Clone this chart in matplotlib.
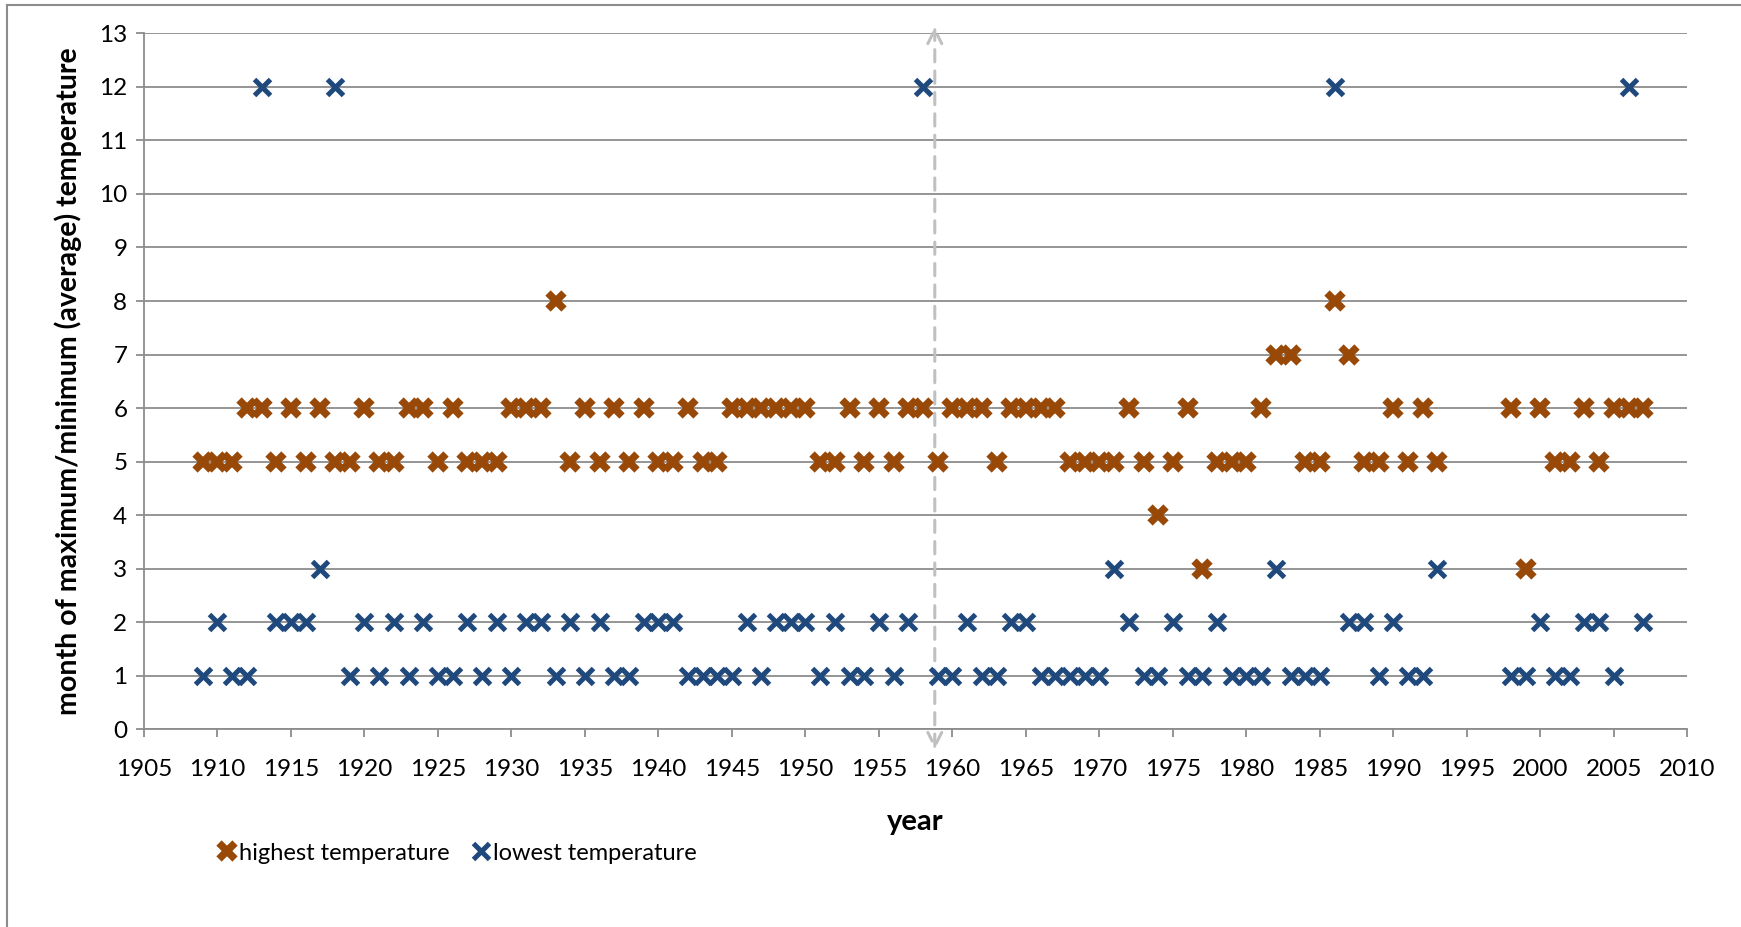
import matplotlib.pyplot as plt
from matplotlib.lines import Line2D
import numpy as np

plt.rcParams['font.family'] = ['Lato', 'DejaVu Sans']

# month of the year's extreme (average) temperature
high_years = [1909, 1910, 1911, 1912, 1913, 1914, 1915, 1916, 1917, 1918, 1919, 1920,
              1921, 1922, 1923, 1924, 1925, 1926, 1927, 1928, 1929, 1930, 1931, 1932,
              1933, 1934, 1935, 1936, 1937, 1938, 1939, 1940, 1941, 1942, 1943, 1944,
              1945, 1946, 1947, 1948, 1949, 1950, 1951, 1952, 1953, 1954, 1955, 1956,
              1957, 1958, 1959, 1960, 1961, 1962, 1963, 1964, 1965, 1966, 1967, 1968,
              1969, 1970, 1971, 1972, 1973, 1974, 1975, 1976, 1977, 1978, 1979, 1980,
              1981, 1982, 1983, 1984, 1985, 1986, 1987, 1988, 1989, 1990, 1991, 1992,
              1993, 1998, 1999, 2000, 2001, 2002, 2003, 2004, 2005, 2006, 2007]
high_month = [5, 5, 5, 6, 6, 5, 6, 5, 6, 5, 5, 6,
              5, 5, 6, 6, 5, 6, 5, 5, 5, 6, 6, 6,
              8, 5, 6, 5, 6, 5, 6, 5, 5, 6, 5, 5,
              6, 6, 6, 6, 6, 6, 5, 5, 6, 5, 6, 5,
              6, 6, 5, 6, 6, 6, 5, 6, 6, 6, 6, 5,
              5, 5, 5, 6, 5, 4, 5, 6, 3, 5, 5, 5,
              6, 7, 7, 5, 5, 8, 7, 5, 5, 6, 5, 6,
              5, 6, 3, 6, 5, 5, 6, 5, 6, 6, 6]

low_years = high_years
low_month = [1, 2, 1, 1, 12, 2, 2, 2, 3, 12, 1, 2,
             1, 2, 1, 2, 1, 1, 2, 1, 2, 1, 2, 2,
             1, 2, 1, 2, 1, 1, 2, 2, 2, 1, 1, 1,
             1, 2, 1, 2, 2, 2, 1, 2, 1, 1, 2, 1,
             2, 12, 1, 1, 2, 1, 1, 2, 2, 1, 1, 1,
             1, 1, 3, 2, 1, 1, 2, 1, 1, 2, 1, 1,
             1, 3, 1, 1, 1, 12, 2, 2, 1, 2, 1, 1,
             3, 1, 1, 2, 1, 1, 2, 2, 1, 12, 2]

x_ticks = np.arange(1905, 2011, 5)
y_ticks = np.arange(0, 14, 1)
split_year = 1958.8

brown = '#984807'
blue = '#1F497D'
grid_gray = '#8C8C8C'

high_style = dict(linestyle='none', marker='x', ms=11.5, mew=5.4, color=brown)
low_style = dict(linestyle='none', marker='x', ms=11.5, mew=3.6, color=blue)

fig = plt.figure(figsize=(17.41, 9.27), dpi=100)
ax = fig.add_axes([0.0827, 0.2132, 0.9692 - 0.0827, 0.9641 - 0.2132])

ax.plot(high_years, high_month, label='highest temperature', zorder=3, **high_style)
ax.plot(low_years, low_month, label='lowest temperature', zorder=4, **low_style)

ax.set_xlim(1905, 2010)
ax.set_ylim(0, 13)
ax.set_xticks(x_ticks)
ax.set_yticks(y_ticks)
ax.yaxis.grid(True, color=grid_gray, lw=1.3)
ax.set_axisbelow(True)

for side in ['top', 'right']:
    ax.spines[side].set_visible(False)
for side in ['left', 'bottom']:
    ax.spines[side].set_color(grid_gray)
    ax.spines[side].set_linewidth(1.3)

ax.tick_params(axis='both', direction='out', color=grid_gray, width=1.3,
               labelsize=17.5, labelcolor='black')
ax.tick_params(axis='x', length=6, pad=15)
ax.tick_params(axis='y', length=6, pad=6)

ax.set_xlabel('year', fontsize=21, fontweight='bold', labelpad=21)
ax.set_ylabel('month of maximum/minimum (average) temperature', fontsize=20.5,
              fontweight='bold', labelpad=12)

# dashed double arrow marking the split year
ax.annotate('', xy=(split_year, 13.13), xytext=(split_year, -0.38),
            xycoords='data', annotation_clip=False,
            arrowprops=dict(arrowstyle='<->,head_length=1.0,head_width=0.5',
                            color='#C0C0C0', lw=2.2, linestyle=(0, (4, 3)),
                            shrinkA=0, shrinkB=0), zorder=2)

handles = [Line2D([], [], **high_style), Line2D([], [], **low_style)]
fig.legend(handles, ['highest temperature', 'lowest temperature'],
           loc='center left', bbox_to_anchor=(0.121, 1 - 853 / 927), ncol=2,
           frameon=False, fontsize=17, handlelength=0.6, handletextpad=0.2,
           columnspacing=1.05, borderaxespad=0)

# outer chart frame
fig.add_artist(Line2D([7 / 1741, 7 / 1741], [0, 1 - 5 / 927],
                      transform=fig.transFigure, color=grid_gray, lw=1.5))
fig.add_artist(Line2D([7 / 1741, 1], [1 - 5 / 927, 1 - 5 / 927],
                      transform=fig.transFigure, color=grid_gray, lw=1.5))

fig.savefig('out.png', dpi=100, facecolor='white')
